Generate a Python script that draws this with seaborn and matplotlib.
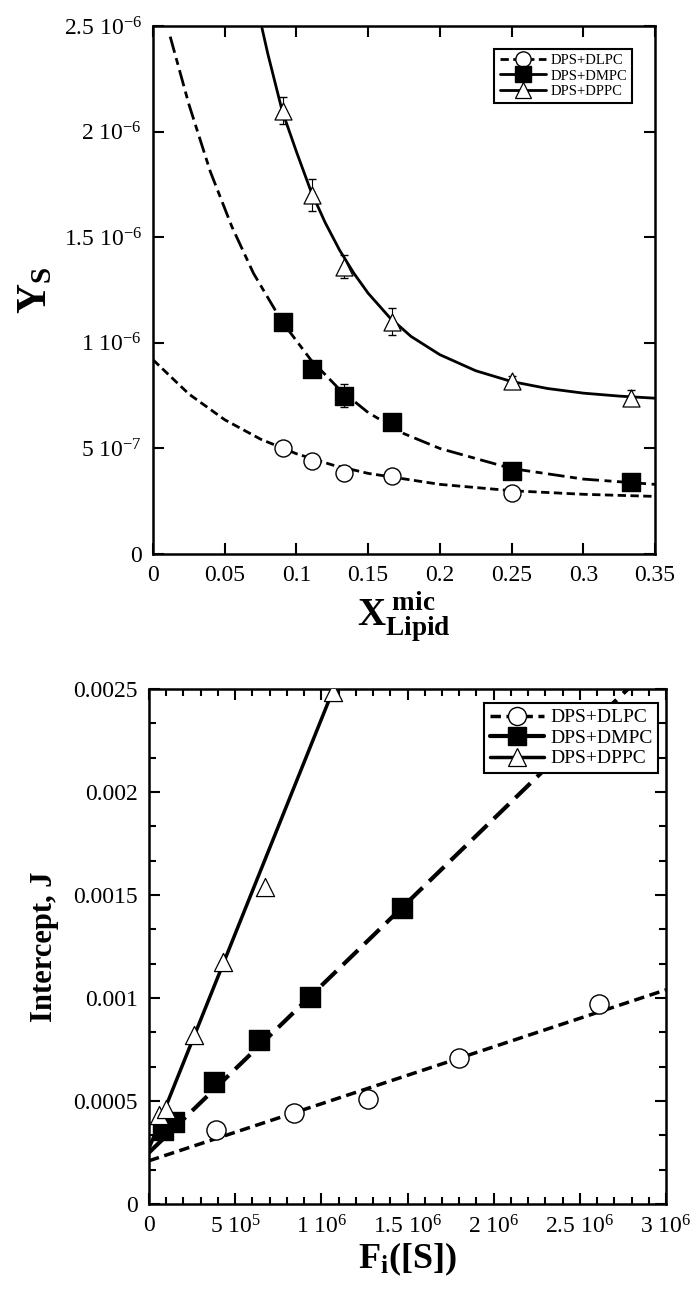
import numpy as np
import pandas as pd
import matplotlib
matplotlib.use("Agg")
import matplotlib.pyplot as plt
import seaborn as sns
from matplotlib.lines import Line2D
from matplotlib.ticker import MultipleLocator, FuncFormatter

# ---- top panel: Y_S vs X_Lipid^mic ----
x_mic = [1/11, 1/9, 2/15, 1/6, 1/4]
x_mic6 = [1/11, 1/9, 2/15, 1/6, 1/4, 1/3]
ys_dlpc = [5.0e-7, 4.4e-7, 3.85e-7, 3.7e-7, 2.9e-7]
ys_dmpc = [1.10e-6, 8.75e-7, 7.5e-7, 6.25e-7, 3.95e-7, 3.4e-7]
ys_dppc = [2.10e-6, 1.70e-6, 1.36e-6, 1.10e-6, 8.2e-7, 7.4e-7]
err_dmpc = [2.0e-8, 3.0e-8, 5.5e-8, 3.0e-8, 2.0e-8, 2.0e-8]
err_dppc = [6.5e-8, 7.5e-8, 5.5e-8, 6.5e-8, 2.5e-8, 3.5e-8]

# fitted curves
fit_x_dlpc = [0, 0.025, 0.05, 0.075, 0.1, 0.125, 0.15, 0.2, 0.25, 0.3, 0.35]
fit_y_dlpc = [9.2e-7, 7.58e-7, 6.36e-7, 5.44e-7, 4.75e-7, 4.22e-7, 3.82e-7,
              3.30e-7, 3.00e-7, 2.83e-7, 2.73e-7]
fit_x_dmpc = [0.012, 0.025, 0.04, 0.055, 0.07, 0.09, 0.11, 0.13, 0.15, 0.175,
              0.2, 0.25, 0.3, 0.35]
fit_y_dmpc = [2.45e-6, 2.13e-6, 1.81e-6, 1.55e-6, 1.33e-6, 1.10e-6, 9.2e-7,
              7.8e-7, 6.7e-7, 5.7e-7, 5.0e-7, 4.05e-7, 3.55e-7, 3.3e-7]
fit_x_dppc = [0.076, 0.08, 0.09, 0.1, 0.11, 0.12, 0.13, 0.14, 0.15, 0.165,
              0.18, 0.2, 0.225, 0.25, 0.275, 0.3, 0.325, 0.35]
fit_y_dppc = [2.49e-6, 2.37e-6, 2.10e-6, 1.905e-6, 1.72e-6, 1.57e-6, 1.44e-6,
              1.33e-6, 1.235e-6, 1.12e-6, 1.03e-6, 9.44e-7, 8.68e-7, 8.17e-7,
              7.84e-7, 7.62e-7, 7.48e-7, 7.38e-7]

# ---- bottom panel: Intercept J vs F_i([S]) ----
fs_dlpc = [0.39e6, 0.84e6, 1.27e6, 1.80e6, 2.61e6]
j_dlpc = [0.00036, 0.00044, 0.00051, 0.00071, 0.00097]
fs_dmpc = [0.08e6, 0.145e6, 0.377e6, 0.638e6, 0.934e6, 1.467e6]
j_dmpc = [0.00036, 0.00040, 0.000594, 0.000796, 0.001006, 0.001438]
fs_dppc = [0.06e6, 0.10e6, 0.263e6, 0.431e6, 0.673e6, 1.066e6]
j_dppc = [0.00043, 0.00046, 0.00082, 0.001176, 0.00154, 0.002487]

line_x_dlpc = [0, 3.0e6]
line_y_dlpc = [0.00021, 0.00104]
line_x_dmpc = [0, 3.0e6]
line_y_dmpc = [0.00025, 0.00268]
line_x_dppc = [0, 1.2e6]
line_y_dppc = [0.00027, 0.00277]

labels = ["DPS+DLPC", "DPS+DMPC", "DPS+DPPC"]

sns.set_style("ticks")
plt.rcParams["font.family"] = ["Liberation Serif", "DejaVu Serif"]
plt.rcParams["mathtext.fontset"] = "custom"
plt.rcParams["mathtext.rm"] = "Liberation Serif"
plt.rcParams["mathtext.it"] = "Liberation Serif:italic"
plt.rcParams["mathtext.bf"] = "Liberation Serif:bold"
for key in ["text.color", "axes.labelcolor", "xtick.color", "ytick.color",
            "axes.edgecolor"]:
    plt.rcParams[key] = "black"

fig = plt.figure(figsize=(6.99, 13.12), dpi=100)
ax1 = fig.add_axes([0.2189, 0.5777, 0.7182, 0.4024])
ax2 = fig.add_axes([0.2132, 0.0823, 0.7396, 0.3925])

style_short = (0, (3.0, 1.6))
style_dashdot = (0, (6.0, 2.0, 2.5, 2.0))
style_long = (0, (5.0, 2.2))


def sci_fmt(v, pos):
    if abs(v) < 1e-30:
        return "0"
    e = int(np.floor(np.log10(abs(v)) + 1e-9))
    m = v / 10 ** e
    ms = f"{m:.1f}".rstrip("0").rstrip(".")
    return ms + " 10$^{" + str(e) + "}$"


def draw_line(ax, xs, ys, ls, lw):
    sns.lineplot(x=xs, y=ys, ax=ax, color="black", linewidth=lw, sort=False,
                 estimator=None)
    ln = ax.lines[-1]
    ln.set_linestyle(ls)
    ln.set_dash_capstyle("butt")
    return ln


# ---------------- top panel ----------------
draw_line(ax1, fit_x_dlpc, fit_y_dlpc, style_short, 2.0)
draw_line(ax1, fit_x_dmpc, fit_y_dmpc, style_dashdot, 2.0)
draw_line(ax1, fit_x_dppc, fit_y_dppc, "-", 2.0)

ax1.errorbar(x_mic6, ys_dmpc, yerr=err_dmpc, fmt="none", ecolor="black",
             elinewidth=0.8, capsize=3, zorder=3)
ax1.errorbar(x_mic6, ys_dppc, yerr=err_dppc, fmt="none", ecolor="black",
             elinewidth=0.8, capsize=3, zorder=3)
sns.scatterplot(x=x_mic, y=ys_dlpc, ax=ax1, marker="o", s=150,
                facecolor="white", edgecolor="black", linewidth=1.0, zorder=4)
sns.scatterplot(x=x_mic6, y=ys_dmpc, ax=ax1, marker="s", s=170,
                color="black", edgecolor="black", linewidth=1.0, zorder=4)
sns.scatterplot(x=x_mic6, y=ys_dppc, ax=ax1, marker="^", s=150,
                facecolor="white", edgecolor="black", linewidth=0.9, zorder=4)

ax1.set_xlim(0, 0.35)
ax1.set_ylim(0, 2.5e-6)
ax1.xaxis.set_major_locator(MultipleLocator(0.05))
ax1.yaxis.set_major_locator(MultipleLocator(5e-7))
ax1.xaxis.set_major_formatter(FuncFormatter(lambda v, p: f"{v:g}"))
ax1.yaxis.set_major_formatter(FuncFormatter(sci_fmt))
ax1.tick_params(direction="in", top=True, right=True, length=8, width=1.5,
                labelsize=17, pad=8)
ax1.set_xlabel(r"$\mathbf{X}_{\mathbf{Lipid}}^{\ \mathbf{mic}}$", fontsize=28,
               labelpad=2)
ax1.set_ylabel(r"$\mathbf{Y}_{\mathbf{S}}$", fontsize=30, labelpad=6)

h_top = [
    Line2D([], [], color="black", lw=2.0, ls=style_short, marker="o", ms=11,
           mfc="white", mec="black", mew=1.0),
    Line2D([], [], color="black", lw=2.0, ls="-", marker="s", ms=11,
           mfc="black", mec="black"),
    Line2D([], [], color="black", lw=2.0, ls="-", marker="^", ms=11,
           mfc="white", mec="black", mew=0.9),
]
leg1 = ax1.legend(h_top, labels, loc="upper right",
                  bbox_to_anchor=(0.955, 0.957), borderaxespad=0,
                  fontsize=10.5, handlelength=3.2, handletextpad=0.3,
                  labelspacing=0.15, borderpad=0.35, fancybox=False,
                  framealpha=1, edgecolor="black")
leg1.get_frame().set_linewidth(1.5)

# ---------------- bottom panel ----------------
draw_line(ax2, line_x_dlpc, line_y_dlpc, style_short, 2.5)
draw_line(ax2, line_x_dmpc, line_y_dmpc, style_long, 3.0)
draw_line(ax2, line_x_dppc, line_y_dppc, "-", 2.5)

sns.scatterplot(x=fs_dlpc, y=j_dlpc, ax=ax2, marker="o", s=190,
                facecolor="white", edgecolor="black", linewidth=1.0, zorder=4)
sns.scatterplot(x=fs_dmpc, y=j_dmpc, ax=ax2, marker="s", s=200,
                color="black", edgecolor="black", linewidth=1.0, zorder=4)
sns.scatterplot(x=fs_dppc, y=j_dppc, ax=ax2, marker="^", s=170,
                facecolor="white", edgecolor="black", linewidth=0.9, zorder=4)

ax2.set_xlim(0, 3e6)
ax2.set_ylim(0, 0.0025)
ax2.xaxis.set_major_locator(MultipleLocator(5e5))
ax2.xaxis.set_minor_locator(MultipleLocator(1e5))
ax2.yaxis.set_major_locator(MultipleLocator(0.0005))
ax2.yaxis.set_minor_locator(MultipleLocator(0.0005 / 3))
ax2.xaxis.set_major_formatter(FuncFormatter(sci_fmt))
ax2.yaxis.set_major_formatter(FuncFormatter(lambda v, p: "0" if v == 0 else f"{v:g}"))
ax2.tick_params(which="major", direction="in", top=True, right=True, length=8,
                width=1.5, labelsize=17, pad=8)
ax2.tick_params(which="minor", direction="in", top=True, right=True, length=5,
                width=1.5)
ax2.set_xlabel(r"$\mathbf{F}_{\mathbf{i}}\mathbf{([S])}$", fontsize=26,
               labelpad=2)
ax2.set_ylabel("Intercept, J", fontsize=22, fontweight="bold", labelpad=10)

h_bot = [
    Line2D([], [], color="black", lw=2.5, ls=style_short, marker="o", ms=13,
           mfc="white", mec="black", mew=1.0),
    Line2D([], [], color="black", lw=3.0, ls="-", marker="s", ms=13,
           mfc="black", mec="black"),
    Line2D([], [], color="black", lw=2.5, ls="-", marker="^", ms=13,
           mfc="white", mec="black", mew=0.9),
]
leg2 = ax2.legend(h_bot, labels, loc="upper right",
                  bbox_to_anchor=(0.985, 0.973), borderaxespad=0,
                  fontsize=14, handlelength=2.8, handletextpad=0.3,
                  labelspacing=0.15, borderpad=0.3, fancybox=False,
                  framealpha=1, edgecolor="black")
leg2.get_frame().set_linewidth(1.5)

for ax in (ax1, ax2):
    for sp in ax.spines.values():
        sp.set_linewidth(1.8)
        sp.set_color("black")

fig.savefig("out.png", dpi=100)
